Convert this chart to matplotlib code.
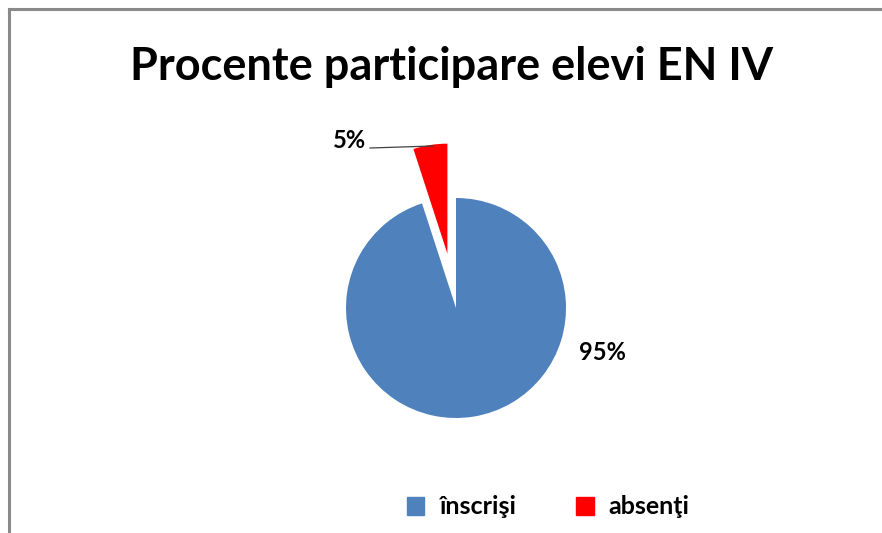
import matplotlib.pyplot as plt
from matplotlib.lines import Line2D

# Data
categories = ['înscrişi', 'absenţi']
values = [95, 5]
pct_labels = ['95%', '5%']
colors = ['#4F81BD', '#FF0000']
title = 'Procente participare elevi EN IV'

W, H = 882, 533
fig = plt.figure(figsize=(W / 100, H / 100), dpi=100)
ax = fig.add_axes([0, 0, 1, 1])

font = 'Lato'

cx, cy, r = 456, H - 308, 110
explode = [0, 0.5]
# matplotlib's explode is in data units, so scale by the radius
wedges, _ = ax.pie(values, colors=colors, startangle=90, counterclock=False,
                   explode=[e * r for e in explode], center=(cx, cy), radius=r,
                   wedgeprops=dict(linewidth=0))

# pie() resets the limits, so set them afterwards
ax.set_xlim(0, W)
ax.set_ylim(0, H)
ax.set_aspect('equal')
ax.axis('off')

# frame lines (top and left only visible)
ax.add_line(Line2D([9, W], [H - 9, H - 9], color='#8a8a8a', lw=2.2))
ax.add_line(Line2D([9, 9], [0, H - 9], color='#8a8a8a', lw=2.2))

ax.text(452, H - 67, title, ha='center', va='center', fontsize=32.5,
        fontweight='bold', family=font)

# data labels
ax.text(602, cy - 44, pct_labels[0], ha='center', va='center', fontsize=17,
        fontweight='bold', family=font, color='black')
ax.text(349, H - 140, pct_labels[1], ha='center', va='center', fontsize=17,
        fontweight='bold', family=font, color='black')
ax.add_line(Line2D([370, 433], [H - 148, H - 146], color='#404040', lw=0.9))

# legend
handles = [plt.Rectangle((0, 0), 1, 1, color=c) for c in colors]
leg = fig.legend(handles, categories, loc='center', bbox_to_anchor=(548 / W, 1 - 507 / H),
                 ncol=2, frameon=False, handlelength=0.7, handleheight=0.7,
                 handletextpad=0.6, columnspacing=2.4,
                 prop=dict(family=font, weight='bold', size=18))

fig.savefig('out.png', dpi=100)
